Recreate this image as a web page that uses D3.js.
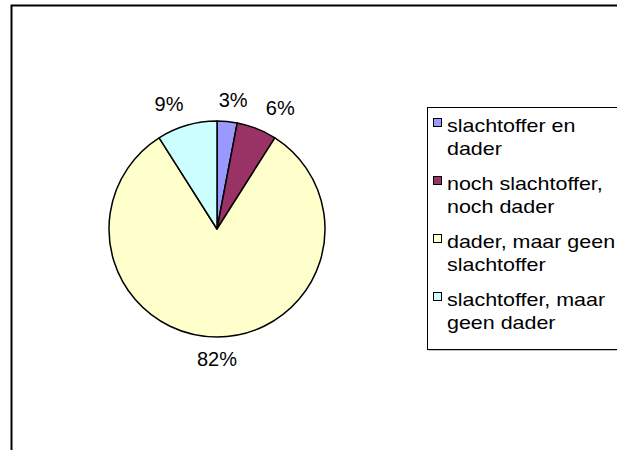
<!DOCTYPE html>
<html>
<head>
<meta charset="utf-8">
<script src="https://cdn.jsdelivr.net/npm/d3@7"></script>
<style>
  html, body { margin: 0; padding: 0; background: #fff; }
  svg { display: block; }
  text { font-family: "Liberation Sans", Arial, sans-serif; fill: #000; }
</style>
</head>
<body>
<svg id="chart" width="617" height="450"></svg>
<script>
// ---- data ----
const categories = [
  "slachtoffer en dader",
  "noch slachtoffer, noch dader",
  "dader, maar geen slachtoffer",
  "slachtoffer, maar geen dader"
];
const legendLines = [
  ["slachtoffer en", "dader"],
  ["noch slachtoffer,", "noch dader"],
  ["dader, maar geen", "slachtoffer"],
  ["slachtoffer, maar", "geen dader"]
];
const values = [3, 6, 82, 9];
const colors = ["#9999FF", "#993366", "#FFFFCC", "#CCFFFF"];

// ---- layout ----
const svg = d3.select("#chart");

// chart area border (extends past right/bottom edge)
svg.append("rect")
  .attr("x", 11.5).attr("y", 5.5)
  .attr("width", 700).attr("height", 600)
  .attr("fill", "#fff")
  .attr("stroke", "#000").attr("stroke-width", 2);

const cx = 217, cy = 229, r = 108;
const pie = d3.pie().sort(null).value(d => d)(values);
const arc = d3.arc().innerRadius(0).outerRadius(r);

const g = svg.append("g").attr("transform", `translate(${cx},${cy})`);
g.selectAll("path")
  .data(pie)
  .join("path")
  .attr("d", arc)
  .attr("fill", (d, i) => colors[i])
  .attr("stroke", "#000")
  .attr("stroke-width", 1.5)
  .attr("stroke-linejoin", "round");

// percentage labels outside the pie (elliptical label ring)
const fs = 20;
const total = d3.sum(values);
const fmt = v => Math.round(v / total * 100) + "%";
const labelRx = 172, labelRy = 130;
g.selectAll("text.lbl")
  .data(pie)
  .join("text")
  .attr("class", "lbl")
  .attr("font-size", fs)
  .attr("text-anchor", "middle")
  .attr("dominant-baseline", "central")
  .attr("x", d => labelRx * Math.sin((d.startAngle + d.endAngle) / 2))
  .attr("y", d => -labelRy * Math.cos((d.startAngle + d.endAngle) / 2))
  .text(d => fmt(d.data));

// legend
const lx = 427.5, ly = 107.5;
svg.append("rect")
  .attr("x", lx + 1).attr("y", ly + 1)
  .attr("width", 300).attr("height", 242)
  .attr("fill", "#888");
svg.append("rect")
  .attr("x", lx).attr("y", ly)
  .attr("width", 300).attr("height", 242)
  .attr("fill", "#fff")
  .attr("stroke", "#000").attr("stroke-width", 1);

const legendY = d3.scalePoint().domain(categories).range([132, 306]);
const item = svg.append("g").selectAll("g")
  .data(categories)
  .join("g")
  .attr("transform", d => `translate(0,${legendY(d)})`);
item.append("rect")
  .attr("x", 433.5).attr("y", -13.5)
  .attr("width", 8).attr("height", 8)
  .attr("fill", (d, i) => colors[i])
  .attr("stroke", "#000").attr("stroke-width", 1);
item.each(function(d, i) {
  const t = d3.select(this).append("text")
    .attr("transform", "translate(447,0) scale(1.16,1)")
    .attr("font-size", 18.5);
  legendLines[i].forEach((ln, j) => {
    t.append("tspan").attr("x", 0).attr("dy", j === 0 ? 0 : 23.5).text(ln);
  });
});
</script>
</body>
</html>
